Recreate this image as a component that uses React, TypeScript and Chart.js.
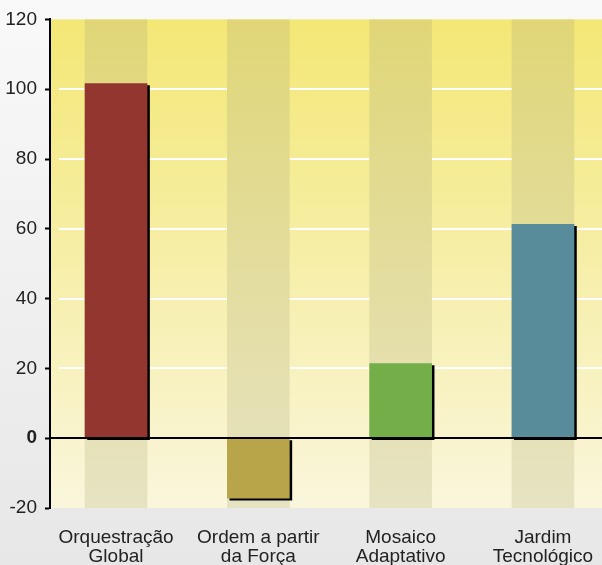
import { useEffect, useRef } from 'react';
import { Chart, registerables } from 'chart.js';

Chart.register(...registerables);

const categories: string[][] = [
  ['Orquestração', 'Global'],
  ['Ordem a partir', 'da Força'],
  ['Mosaico', 'Adaptativo'],
  ['Jardim', 'Tecnológico'],
];
const values: number[] = [101.6, -17.2, 21.4, 61.3];
const barColors: string[] = ['#943630', '#b8a54a', '#74ae48', '#588c9b'];
const yMin = -20;
const yMax = 120;
const yStep = 20;

const FONT = '"Liberation Sans", Arial, sans-serif';

export default function App() {
  const ref = useRef<HTMLCanvasElement>(null);

  useEffect(() => {
    const canvas = ref.current!;

    const bandColor = (ctx: any) => {
      const chart = ctx.chart;
      const a = chart.chartArea;
      if (!a) return '#e3dc9c';
      const g = chart.ctx.createLinearGradient(0, a.top, 0, a.bottom);
      g.addColorStop(0, '#e0d677');
      g.addColorStop(1, '#e6e3c3');
      return g;
    };

    const bgPlugin = {
      id: 'plotBg',
      beforeDraw(chart: any) {
        const a = chart.chartArea;
        if (!a) return;
        const ctx = chart.ctx;
        const g = ctx.createLinearGradient(0, a.top, 0, a.bottom);
        g.addColorStop(0, '#f3e775');
        g.addColorStop(1, '#faf6dc');
        ctx.save();
        ctx.fillStyle = g;
        ctx.fillRect(a.left, a.top, a.right - a.left, a.bottom - a.top);
        ctx.restore();
      },
      beforeDatasetsDraw(chart: any) {
        const a = chart.chartArea;
        const y = chart.scales.y;
        const ctx = chart.ctx;
        ctx.save();
        ctx.strokeStyle = '#ffffff';
        ctx.lineWidth = 2;
        for (const t of y.ticks) {
          if (t.value > 0 && t.value < yMax) {
            const py = Math.round(y.getPixelForValue(t.value));
            ctx.beginPath();
            ctx.moveTo(a.left + 9, py);
            ctx.lineTo(a.right, py);
            ctx.stroke();
          }
        }
        ctx.restore();
      },
      beforeDatasetDraw(chart: any, args: any) {
        if (args.index === 0) {
          const ctx = chart.ctx;
          ctx.save();
          ctx.shadowColor = '#000000';
          ctx.shadowOffsetX = 2.5;
          ctx.shadowOffsetY = 2;
          ctx.shadowBlur = 0;
        }
      },
      afterDatasetDraw(chart: any, args: any) {
        if (args.index === 0) chart.ctx.restore();
      },
      afterDatasetsDraw(chart: any) {
        const a = chart.chartArea;
        const y = chart.scales.y;
        const ctx = chart.ctx;
        const py = Math.round(y.getPixelForValue(0));
        ctx.save();
        ctx.strokeStyle = '#000000';
        ctx.lineWidth = 2;
        ctx.beginPath();
        ctx.moveTo(a.left, py);
        ctx.lineTo(a.right, py);
        ctx.stroke();
        ctx.restore();
      },
    };

    const chart = new Chart(canvas, {
      type: 'bar',
      data: {
        datasets: [
          {
            data: values.map((v, i) => ({ x: i, y: v })) as any,
            backgroundColor: barColors,
            barThickness: 62,
            grouped: false,
            order: 1,
          } as any,
          {
            data: values.map((_, i) => ({ x: i, y: [yMin, yMax] })) as any,
            backgroundColor: bandColor,
            barThickness: 62,
            grouped: false,
            order: 2,
          } as any,
        ],
      },
      options: {
        animation: false,
        responsive: false,
        maintainAspectRatio: false,
        layout: { padding: { top: 18, right: 0, left: 0, bottom: 0 } },
        plugins: {
          legend: { display: false },
          tooltip: { enabled: false },
        },
        scales: {
          x: {
            type: 'linear',
            min: -0.464,
            max: 3.415,
            offset: false,
            grid: { display: false },
            border: { display: false },
            afterBuildTicks: (s: any) => {
              s.ticks = categories.map((_, i) => ({ value: i }));
            },
            afterFit: (s: any) => {
              s.height = 92;
              s.paddingLeft = 0;
              s.paddingRight = 0;
            },
            ticks: {
              autoSkip: false,
              maxRotation: 0,
              padding: 12,
              color: '#222222',
              font: { family: FONT, size: 19, lineHeight: 1.02 },
              callback: (v: any) => categories[v as number] ?? '',
            },
          },
          y: {
            type: 'linear',
            min: yMin,
            max: yMax,
            afterFit: (s: any) => {
              s.width = 50;
            },
            border: { display: true, color: '#000000', width: 2 },
            grid: {
              display: true,
              drawOnChartArea: false,
              drawTicks: true,
              tickLength: 5,
              tickWidth: 2,
              tickColor: '#000000',
            },
            ticks: {
              stepSize: yStep,
              padding: 8,
              color: '#222222',
              font: (ctx: any) =>
                ctx.tick && ctx.tick.value === 0
                  ? { family: FONT, size: 19, weight: 'bold' }
                  : { family: FONT, size: 19 },
            },
          },
        },
      } as any,
      plugins: [bgPlugin],
    });

    return () => chart.destroy();
  }, []);

  return (
    <div
      style={{
        position: 'fixed',
        left: 0,
        top: 0,
        width: 602,
        height: 565,
        overflow: 'hidden',
        background: 'linear-gradient(#f9f9f9, #e7e7e7)',
      }}
    >
      <canvas ref={ref} width={602} height={600} style={{ display: 'block' }} />
    </div>
  );
}
